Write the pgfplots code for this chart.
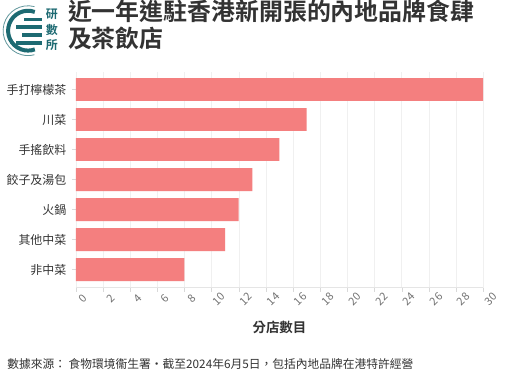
\documentclass[border=0pt]{standalone}
\usepackage{fontspec}
\setmainfont{Noto Sans CJK TC}[BoldFont={Noto Sans CJK TC Bold}]
\usepackage{pgfplots}
\pgfplotsset{compat=1.18}
\definecolor{barc}{HTML}{F47F7F}
\definecolor{teal1}{HTML}{1D6A72}
\definecolor{txt}{HTML}{333333}
\begin{document}
\begin{tikzpicture}[x=1pt,y=1pt]
\path[fill=white] (0,0) rectangle (509,376);
% logo
\draw[teal1, line width=4pt] (26,347) ++(70:20) arc[start angle=70, end angle=290, radius=20];
\draw[teal1!70, line width=0.8pt] (26,347) ++(75:25) arc[start angle=75, end angle=285, radius=25];
\fill[teal1] (14,349) rectangle (40,353);
\fill[teal1] (20,341) rectangle (40,345);
\fill[teal1] (14,333) rectangle (40,337);
\fill[teal1] (22,357) rectangle (40,360);
\node[font=\bfseries\fontsize{12}{12}\selectfont, text=teal1, inner sep=0pt] at (50,363) {研};
\node[font=\bfseries\fontsize{12}{12}\selectfont, text=teal1, inner sep=0pt] at (50,348) {數};
\node[font=\bfseries\fontsize{12}{12}\selectfont, text=teal1, inner sep=0pt] at (50,333) {所};
% title
\node[anchor=north west, inner sep=0pt, align=left, text=txt, font=\bfseries\fontsize{24}{27}\selectfont] at (66,378) {近一年進駐香港新開張的內地品牌食肆\\及茶飲店};
\begin{axis}[
  at={(74pt,89pt)}, anchor=south west, scale only axis,
  width=409pt, height=217pt,
  xbar, bar width=23pt,
  xmin=0, xmax=30, ymin=-0.6, ymax=6.6,
  ytick={0,...,6},
  yticklabels={非中菜,其他中菜,火鍋,餃子及湯包,手搖飲料,川菜,手打檸檬茶},
  xtick={0,2,...,30},
  xticklabel={\pgfmathprintnumber[assume math mode=true]{\tick}},
  xmajorgrids, grid style={gray!12},
  axis x line*=bottom, axis y line*=left,
  x axis line style={draw=gray!20, -},
  y axis line style={draw=none},
  tick align=outside, major tick length=4pt,
  tick style={gray!30},
  yticklabel style={font=\fontsize{12}{12}\selectfont, text=txt, xshift=-2pt},
  xticklabel style={font=\fontsize{11}{11}\selectfont, text=gray!90!black, rotate=45, anchor=center, inner sep=0pt, text height=7pt, text depth=0pt, yshift=-11pt},
  xlabel={分店數目},
  xlabel style={font=\bfseries\fontsize{13.5}{13.5}\selectfont, text=txt, yshift=-12pt},
]
\addplot[fill=barc, draw=none] coordinates {(8,0) (11,1) (12,2) (13,3) (15,4) (17,5) (30,6)};
\end{axis}
\node[anchor=west, inner sep=0pt, text=txt, font=\fontsize{11.8}{12}\selectfont] at (5,12) {數據來源： 食物環境衞生署•截至2024年6月5日，包括內地品牌在港特許經營};
\end{tikzpicture}
\end{document}
